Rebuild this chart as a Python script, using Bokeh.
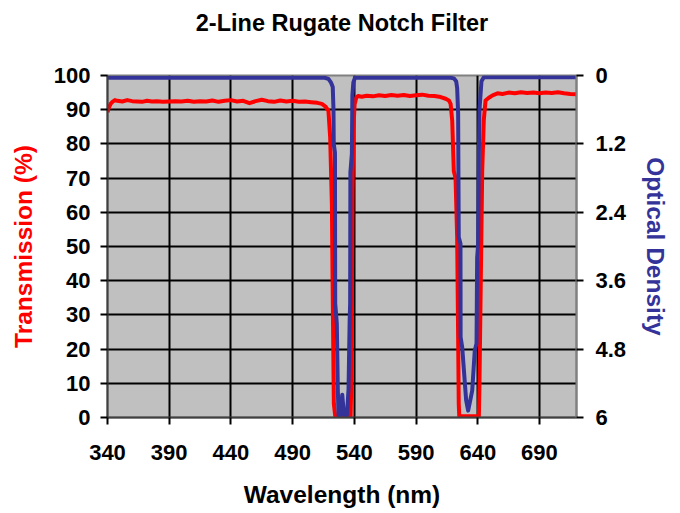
from bokeh.plotting import figure
from bokeh.models import Range1d, LinearAxis, FixedTicker, CustomJSTickFormatter
from bokeh.embed import file_html
from bokeh.resources import INLINE

FONT = "Liberation Sans"

title_text = "2-Line Rugate Notch Filter"

# Transmission curve (%), red, left axis
wavelength_t = [340, 341, 342.5, 344, 346, 348, 352, 356, 360, 364, 368, 372, 376, 380,
                385, 390, 395, 400, 405, 410, 415, 420, 425, 430, 435, 440, 445, 450,
                455, 460, 465, 470, 475, 480, 485, 490, 495, 500, 505, 510, 513.7, 516.4,
                519, 520.4, 521.8, 522.3, 523.1, 523.4, 524.5, 537.0, 537.5, 538.0, 538.5,
                539.2, 540.2, 541.5, 543, 546, 550, 555, 560, 565, 570, 575, 580, 585,
                590, 595, 600, 605, 610, 614, 616.6, 618, 619.3, 620.6, 622, 623.3,
                624.1, 624.6, 625, 640.9, 641.3, 642.2, 643.6, 644.9, 646.3, 649, 652,
                656, 660, 665, 670, 675, 680, 685, 690, 695, 700, 705, 710, 715, 720]
transmission = [89.3, 90.5, 91.7, 92.3, 92.8, 92.6, 92.4, 92.8, 92.5, 92.4, 92.3, 92.6, 92.4, 92.5,
                92.3, 92.4, 92.5, 92.4, 92.6, 92.3, 92.5, 92.4, 92.7, 92.3, 92.6, 92.8, 92.4, 92.6,
                91.9, 92.5, 92.9, 92.5, 92.3, 92.7, 92.4, 92.6, 92.3, 92.4, 92.2, 92.0, 91.7, 91.0,
                89.7, 82.0, 62.5, 43.0, 13.7, 4.0, 0.4, 0.4, 10.0, 35.0, 65.0,
                84.0, 91.5, 93.5, 94.0, 93.8, 94.1, 93.9, 94.2, 94.0, 94.3, 94.1, 94.3, 94.0,
                94.2, 94.4, 94.1, 94.0, 93.7, 93.2, 92.7, 91.7, 86.8, 72.0, 70.0, 52.7,
                23.5, 4.0, 0.4, 0.4, 8.0, 33.0, 72.0, 87.0, 92.7, 93.5, 94.2,
                94.8, 94.6, 95.0, 94.8, 95.1, 94.9, 95.0, 94.8, 95.0, 94.9, 95.1, 94.8, 94.6, 94.5]

# Optical density curve, blue, right axis (reversed)
wavelength_od = [340, 400, 450, 500, 516, 519, 521, 522.5, 523.1, 523.3, 524.3, 524.5,
                 525.8, 526.6, 527.2, 528.7, 530.2, 531.6, 534.0, 535.3, 536.2, 536.6,
                 536.8, 538.0, 538.4, 539.2, 540.5, 560, 580, 600, 618, 620.6, 622.5,
                 623.3, 624.1, 624.6, 626.0, 626.1, 627.4, 630.6, 632.2, 635.5, 637.6,
                 639.0, 639.5, 640.3, 640.9, 641.4, 643.0, 644.9, 680, 720]
optical_density = [0.04, 0.04, 0.04, 0.04, 0.04, 0.06, 0.12, 0.2, 0.6, 1.2, 1.35, 4.0,
                   4.35, 5.5, 5.96, 5.96, 5.6, 5.96, 5.96, 5.5, 4.3, 4.0,
                   1.7, 1.37, 0.35, 0.12, 0.04, 0.04, 0.04, 0.04, 0.04, 0.05, 0.1,
                   0.22, 0.67, 2.84, 2.95, 4.59, 4.77, 5.7, 5.88, 5.53, 4.82,
                   4.7, 3.2, 2.96, 1.37, 0.6, 0.1, 0.03, 0.03, 0.03]

x_ticks = [340, 390, 440, 490, 540, 590, 640, 690]
t_ticks = [0, 10, 20, 30, 40, 50, 60, 70, 80, 90, 100]
od_ticks = [0, 1.2, 2.4, 3.6, 4.8, 6]

p = figure(width=680, height=513, x_range=Range1d(340, 720), y_range=Range1d(0, 100),
           output_backend="svg", toolbar_location=None,
           min_border_left=107, min_border_right=104, min_border_top=75, min_border_bottom=96)
p.extra_y_ranges = {"od": Range1d(6, 0)}

p.background_fill_color = "#C0C0C0"
p.border_fill_color = "white"
p.outline_line_color = "#808080"
p.outline_line_width = 2

for g, ticks in ((p.xgrid, x_ticks), (p.ygrid, t_ticks)):
    g.ticker = FixedTicker(ticks=ticks)
    g.grid_line_color = "black"
    g.grid_line_width = 2
    g.grid_line_alpha = 1.0


def style_axis(ax, label, color, label_standoff, tick_standoff):
    ax.axis_label = label
    ax.axis_label_text_font = FONT
    ax.axis_label_text_font_size = "24.5px"
    ax.axis_label_text_font_style = "bold"
    ax.axis_label_text_color = color
    ax.axis_label_standoff = label_standoff
    ax.major_label_text_font = FONT
    ax.major_label_text_font_size = "22px"
    ax.major_label_text_font_style = "bold"
    ax.major_label_text_color = "black"
    ax.major_label_standoff = tick_standoff
    ax.major_tick_in = 0
    ax.major_tick_out = 7
    ax.major_tick_line_color = "black"
    ax.major_tick_line_width = 2
    ax.minor_tick_line_color = None
    ax.axis_line_color = "#404040"
    ax.axis_line_width = 2


xa = p.xaxis[0]
xa.ticker = FixedTicker(ticks=x_ticks)
style_axis(xa, "Wavelength (nm)", "black", 18, 20)

ya = p.yaxis[0]
ya.ticker = FixedTicker(ticks=t_ticks)
style_axis(ya, "Transmission (%)", "#FF0000", 14, 10)

ra = LinearAxis(y_range_name="od", ticker=FixedTicker(ticks=od_ticks),
                formatter=CustomJSTickFormatter(code="return String(Math.round(tick*10)/10);"))
style_axis(ra, "Optical Density", "#333399", 13, 12)
ra.axis_line_color = "#808080"
p.add_layout(ra, "right")

# chart title: label of an empty axis above the frame (centred on the frame)
ta = LinearAxis(ticker=FixedTicker(ticks=[]), axis_label=title_text,
                axis_line_color=None, major_tick_line_color=None, minor_tick_line_color=None,
                major_tick_out=0, major_tick_in=0, major_label_standoff=0,
                axis_label_standoff=40, axis_label_text_font=FONT,
                axis_label_text_font_size="23.5px", axis_label_text_font_style="bold",
                axis_label_text_color="black")
p.add_layout(ta, "above")

p.line(wavelength_t, transmission, line_color="#FF0000", line_width=4, line_join="round")
p.line(wavelength_od, optical_density, y_range_name="od", line_color="#333399",
       line_width=4, line_join="round")

open("out.html", "w").write(file_html(p, INLINE))
